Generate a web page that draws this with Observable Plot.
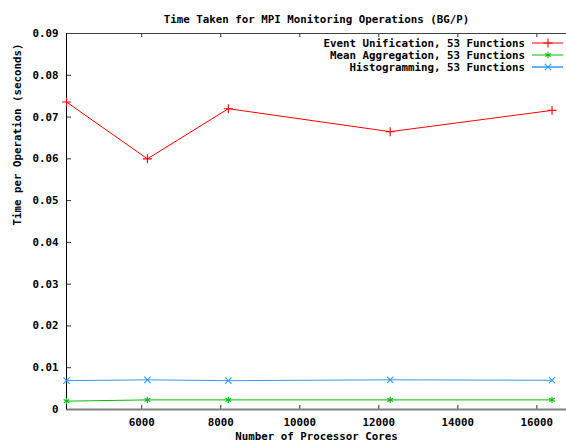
<!DOCTYPE html>
<html>
<head>
<meta charset="utf-8">
<script src="https://cdn.jsdelivr.net/npm/d3@7"></script>
<script src="https://cdn.jsdelivr.net/npm/@observablehq/plot@0.6"></script>
<style>
  html, body { margin: 0; padding: 0; background: white; }
</style>
</head>
<body>
<div id="chart"></div>
<script>
const cores = [4096, 6144, 8192, 12288, 16384];
const eventUnification = [0.0736, 0.0600, 0.0720, 0.0665, 0.0716];
const meanAggregation = [0.0020, 0.0023, 0.0023, 0.0023, 0.0023];
const histogramming = [0.0069, 0.0071, 0.0069, 0.0071, 0.0070];

const seriesNames = ["Event Unification, 53 Functions", "Mean Aggregation, 53 Functions", "Histogramming, 53 Functions"];
const seriesColors = ["#ff0000", "#00c000", "#3399ff"];
const seriesSymbols = ["plus", "asterisk", "times"];
const seriesValues = [eventUnification, meanAggregation, histogramming];

const xTicks = [6000, 8000, 10000, 12000, 14000, 16000];
const yTicks = [0, 0.01, 0.02, 0.03, 0.04, 0.05, 0.06, 0.07, 0.08, 0.09];
const yTickLabels = ["0", "0.01", "0.02", "0.03", "0.04", "0.05", "0.06", "0.07", "0.08", "0.09"];

const titleText = "Time Taken for MPI Monitoring Operations (BG/P)";
const xLabel = "Number of Processor Cores";
const yLabel = "Time per Operation (seconds)";

const rows = [];
seriesNames.forEach((name, s) => {
  cores.forEach((c, i) => rows.push({series: name, cores: c, value: seriesValues[s][i]}));
});

const W = 566, H = 443, mL = 66, mR = 0, mT = 33, mB = 34;
const plotW = W - mL - mR, plotH = H - mT - mB;
const font = "'DejaVu Sans Mono', monospace";

function legend(index, scales, values, dimensions) {
  const g = d3.create("svg:g")
    .attr("font-family", font).attr("font-weight", "bold").attr("font-size", "10.8px");
  const syms = [d3.symbolPlus, d3.symbolAsterisk, d3.symbolTimes];
  seriesNames.forEach((name, i) => {
    const y = 43 + 12 * i;
    g.append("text").attr("x", 525).attr("y", y).attr("dy", "0.35em")
      .attr("text-anchor", "end").attr("fill", "black").text(name);
    g.append("line").attr("x1", 532).attr("x2", 563).attr("y1", y).attr("y2", y)
      .attr("stroke", seriesColors[i]).attr("stroke-width", i === 2 ? 1.5 : 1);
    g.append("path").attr("transform", `translate(548,${y})`)
      .attr("d", d3.symbol(syms[i], 28)()).attr("fill", "none")
      .attr("stroke", seriesColors[i]).attr("stroke-width", 1.1);
  });
  return g.node();
}

const chart = Plot.plot({
  width: W, height: H,
  marginLeft: mL, marginRight: mR, marginTop: mT, marginBottom: mB,
  style: {fontFamily: font, fontWeight: "bold", fontSize: "10.8px", background: "white", color: "black"},
  x: {domain: [4096, 16750], axis: null},
  y: {domain: [0, 0.09], axis: null},
  marks: [
    Plot.axisY({ticks: yTicks, tickFormat: d => yTickLabels[yTicks.indexOf(d)], tickSize: 0, tickPadding: 8, fill: "black", label: null}),
    Plot.axisX({ticks: xTicks, tickFormat: d => String(d), tickSize: 0, tickPadding: 9, fill: "black", label: null}),
    Plot.tickY(yTicks, {y: d => d, insetRight: plotW - 5, stroke: "#333"}),
    Plot.tickX(xTicks, {x: d => d, insetTop: plotH - 4, stroke: "#333"}),
    Plot.tickX(xTicks, {x: d => d, insetBottom: plotH - 4, stroke: "#333"}),
    Plot.ruleY([0.09], {stroke: "#444"}),
    Plot.ruleY([0], {stroke: "#808080", strokeWidth: 2}),
    Plot.ruleX([4096], {stroke: "black"}),
    Plot.line(rows, {x: "cores", y: "value", z: "series", stroke: "series", strokeWidth: 1}),
    Plot.dot(rows, {x: "cores", y: "value", symbol: "series", stroke: "series", r: 3, strokeWidth: 1.1}),
    Plot.text([titleText], {frameAnchor: "top", dy: -18, fill: "black"}),
    Plot.text([xLabel], {frameAnchor: "bottom", dy: 30, fill: "black"}),
    Plot.text([yLabel], {frameAnchor: "left", dx: -49, dy: 4, rotate: -90, fill: "black"}),
    legend
  ],
  color: {domain: seriesNames, range: seriesColors},
  symbol: {domain: seriesNames, range: seriesSymbols}
});

document.getElementById("chart").appendChild(chart);
</script>
</body>
</html>
